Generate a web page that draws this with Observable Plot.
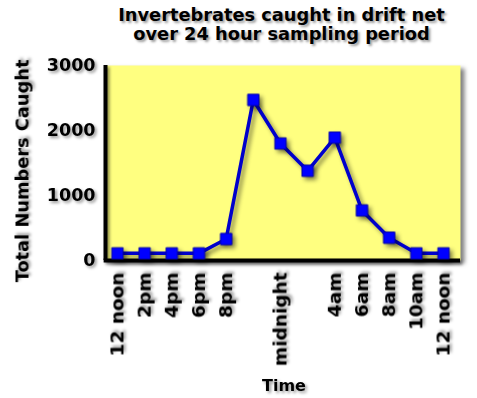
<!DOCTYPE html>
<html>
<head>
<meta charset="utf-8">
<script src="https://cdn.jsdelivr.net/npm/d3@7"></script>
<script src="https://cdn.jsdelivr.net/npm/@observablehq/plot@0.6"></script>
<style>
  html, body { margin: 0; padding: 0; background: #fff; }
  #wrap { width: 477px; height: 398px; position: relative; overflow: hidden; }
  #title {
    width: 477px; box-sizing: border-box; height: 48px;
    padding: 5px 0 0 86px; text-align: center; white-space: nowrap;
    font: bold 17.8px/19px "DejaVu Sans", sans-serif; color: #000;
    text-shadow: 2px 2px 2.5px rgba(0,0,0,0.4);
  }
  svg text { filter: drop-shadow(2px 2px 1.5px rgba(0,0,0,0.4)); }
  svg [aria-label="frame"] { filter: drop-shadow(4px 3px 2px rgba(0,0,0,0.5)); }
  svg [aria-label="line"], svg [aria-label="dot"] { filter: drop-shadow(3px 3px 2px rgba(0,0,0,0.45)); }
  svg [aria-label="rule"] { filter: drop-shadow(2px 2px 1.5px rgba(0,0,0,0.45)); }
</style>
</head>
<body>
<div id="wrap">
  <div id="title">Invertebrates caught in drift net<br>over 24 hour sampling period</div>
  <div id="chart"></div>
</div>
<script>
const hours = [0, 2, 4, 6, 8, 10, 12, 14, 16, 18, 20, 22, 24];
const counts = [110, 110, 110, 110, 330, 2470, 1800, 1380, 1890, 770, 350, 110, 110];
const tickLabels = ["12 noon", "2pm", "4pm", "6pm", "8pm", "", "midnight", "", "4am", "6am", "8am", "10am", "12 noon"];
const yTicks = [0, 1000, 2000, 3000];
const yTitle = "Total Numbers Caught";
const xTitle = "Time";

const data = hours.map((h, i) => ({hour: h, count: counts[i], label: tickLabels[i]}));
const labelOf = new Map(hours.map((h, i) => [h, tickLabels[i]]));
const xDomain = [-0.88, 25.25];

const chart = Plot.plot({
  width: 477,
  height: 350,
  marginTop: 17,
  marginBottom: 138,
  marginLeft: 105,
  marginRight: 17,
  style: {fontFamily: "DejaVu Sans, sans-serif", fontWeight: "bold", color: "#000", background: "transparent", overflow: "visible"},
  x: {domain: xDomain},
  y: {domain: [0, 3000]},
  marks: [
    Plot.frame({fill: "#ffff80", stroke: "none"}),
    Plot.ruleX([xDomain[0]], {stroke: "#000", strokeWidth: 4}),
    Plot.ruleY([0], {stroke: "#000", strokeWidth: 4, x1: xDomain[0] - 0.1, x2: xDomain[1]}),
    Plot.axisY({ticks: yTicks, tickSize: 0, tickPadding: 10, fontSize: 17.5, label: null, tickFormat: d => String(d)}),
    Plot.axisX({ticks: hours, tickSize: 0, tickPadding: 12, tickRotate: -90, fontSize: 18.5, label: null, tickFormat: d => labelOf.get(d)}),
    Plot.line(data, {x: "hour", y: "count", stroke: "#0000cc", strokeWidth: 3.5}),
    Plot.dot(data, {x: "hour", y: "count", symbol: "square", r: 6.4, fill: "#0000ff", stroke: "#0000aa", strokeWidth: 1}),
    Plot.text([yTitle], {frameAnchor: "left", textAnchor: "middle", dx: -83, dy: 8, rotate: -90, fontSize: 17.8, fontWeight: "bold"}),
    Plot.text([xTitle], {frameAnchor: "bottom", dx: 1, dy: 130, fontSize: 16, fontWeight: "bold"})
  ]
});
document.getElementById("chart").appendChild(chart);
</script>
</body>
</html>
